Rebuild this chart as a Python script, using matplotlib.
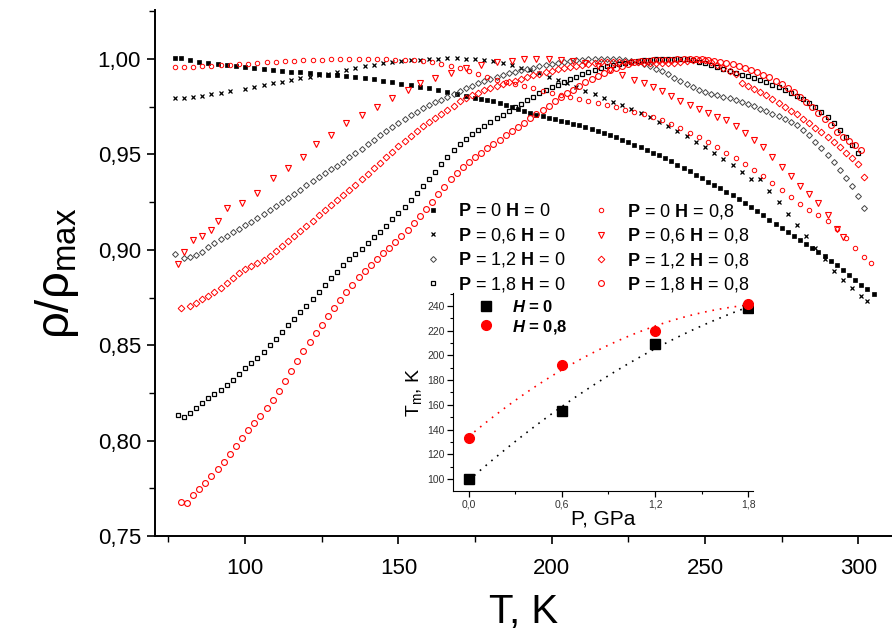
import numpy as np
import matplotlib
matplotlib.use("Agg")
import matplotlib.pyplot as plt
from matplotlib.lines import Line2D
from matplotlib.ticker import MultipleLocator, FuncFormatter

plt.rcParams["font.family"] = ["Liberation Sans", "DejaVu Sans"]
plt.rcParams["mathtext.fontset"] = "custom"
plt.rcParams["mathtext.rm"] = "Liberation Sans"
plt.rcParams["mathtext.bf"] = "Liberation Sans:bold"
plt.rcParams["mathtext.it"] = "Liberation Sans:italic"
plt.rcParams["mathtext.bfit"] = "Liberation Sans:italic:bold"

# ---- main data: rho/rho_max vs T ----
# P = 0, H = 0
T_a = [77, 79, 82, 85, 88, 91, 94, 97, 100, 103, 106, 109, 112, 115, 118, 121, 124, 127, 130, 133,
       136, 139, 142, 145, 148, 151, 154, 157, 160, 163, 166, 169, 172, 175, 177, 179, 181, 183, 185,
       187, 189, 191, 193, 195, 197, 199, 201, 203, 205, 207, 209, 211, 213, 215, 217, 219, 221, 223,
       225, 227, 229, 231, 233, 235, 237, 239, 241, 243, 245, 247, 249, 251, 253, 255, 257, 259, 261,
       263, 265, 267, 269, 271, 273, 275, 277, 279, 281, 283, 285, 287, 289, 291, 293, 295, 297, 299,
       301, 303, 305]
r_a = [1.0003, 1.0005, 0.9995, 0.9985, 0.9978, 0.9972, 0.9967, 0.9962, 0.9957, 0.9952, 0.9947,
       0.9942, 0.9938, 0.9934, 0.9930, 0.9925, 0.9922, 0.9918, 0.9914, 0.9910, 0.9906, 0.9900,
       0.9893, 0.9886, 0.9879, 0.9871, 0.9863, 0.9855, 0.9846, 0.9836, 0.9826, 0.9815, 0.9805,
       0.9797, 0.9792, 0.9786, 0.9779, 0.9770, 0.9760, 0.9750, 0.9739, 0.9728, 0.9718, 0.9709,
       0.9701, 0.9693, 0.9685, 0.9677, 0.9669, 0.9660, 0.9652, 0.9643, 0.9633, 0.9623, 0.9612,
       0.9601, 0.9590, 0.9578, 0.9565, 0.9552, 0.9539, 0.9525, 0.9510, 0.9495, 0.9480, 0.9464,
       0.9447, 0.9430, 0.9412, 0.9393, 0.9374, 0.9356, 0.9340, 0.9322, 0.9304, 0.9287, 0.9268,
       0.9248, 0.9226, 0.9204, 0.9181, 0.9157, 0.9136, 0.9115, 0.9095, 0.9074, 0.9053, 0.9032,
       0.9010, 0.8988, 0.8965, 0.8942, 0.8918, 0.8893, 0.8868, 0.8843, 0.8818, 0.8793, 0.8770]

# P = 0.6, H = 0
T_b = [77, 80, 83, 86, 89, 92, 95, 100, 103, 106, 109, 112, 115, 118, 121, 124, 127, 130, 133, 136,
       139, 142, 145, 148, 151, 154, 157, 160, 163, 166, 169, 172, 175, 178, 181, 184, 187, 190, 193,
       196, 199, 202, 205, 208, 211, 214, 217, 220, 223, 226, 229, 232, 235, 238, 241, 244, 247, 250,
       253, 256, 259, 262, 265, 268, 271, 274, 277, 280, 283, 286, 289, 292, 295, 298, 301, 303]
r_b = [0.9795, 0.9798, 0.9803, 0.9808, 0.9815, 0.9823, 0.9831, 0.9843, 0.9852, 0.9862, 0.9872,
       0.9882, 0.9891, 0.9900, 0.9908, 0.9916, 0.9924, 0.9932, 0.9942, 0.9952, 0.9962, 0.9971,
       0.9979, 0.9985, 0.9990, 0.9994, 0.9997, 1.0000, 1.0002, 1.0003, 1.0003, 1.0002, 1.0000,
       0.9995, 0.9988, 0.9979, 0.9968, 0.9955, 0.9941, 0.9925, 0.9908, 0.9890, 0.9872, 0.9853,
       0.9834, 0.9815, 0.9796, 0.9777, 0.9758, 0.9738, 0.9717, 0.9695, 0.9672, 0.9647, 0.9621,
       0.9594, 0.9566, 0.9537, 0.9507, 0.9476, 0.9443, 0.9409, 0.9373, 0.9370, 0.9310, 0.9250,
       0.9190, 0.9130, 0.9070, 0.9010, 0.8950, 0.8890, 0.8840, 0.8800, 0.8760, 0.8730]

# P = 1.2, H = 0
T_c = [77, 80, 82, 84, 86, 88, 90, 92, 94, 96, 98, 100, 102, 104, 106, 108, 110, 112, 114, 116, 118,
       120, 122, 124, 126, 128, 130, 132, 134, 136, 138, 140, 142, 144, 146, 148, 150, 152, 154, 156,
       158, 160, 162, 164, 166, 168, 170, 172, 174, 176, 178, 180, 182, 184, 186, 188, 190, 192, 194,
       196, 198, 200, 202, 204, 206, 208, 210, 212, 214, 216, 218, 220, 222, 224, 226, 228, 230, 232,
       234, 236, 238, 240, 242, 244, 246, 248, 250, 252, 254, 256, 258, 260, 262, 264, 266, 268, 270,
       272, 274, 276, 278, 280, 282, 284, 286, 288, 290, 292, 294, 296, 298, 300, 302]
r_c = [0.8980, 0.8955, 0.8962, 0.8975, 0.8990, 0.9015, 0.9035, 0.9055, 0.9073, 0.9091, 0.9109,
       0.9128, 0.9148, 0.9168, 0.9188, 0.9209, 0.9230, 0.9251, 0.9272, 0.9293, 0.9315, 0.9338,
       0.9360, 0.9381, 0.9401, 0.9421, 0.9441, 0.9462, 0.9485, 0.9508, 0.9531, 0.9554, 0.9577,
       0.9600, 0.9622, 0.9643, 0.9664, 0.9685, 0.9705, 0.9724, 0.9742, 0.9758, 0.9773, 0.9787,
       0.9801, 0.9815, 0.9833, 0.9847, 0.9860, 0.9873, 0.9885, 0.9897, 0.9908, 0.9917, 0.9925,
       0.9933, 0.9940, 0.9947, 0.9954, 0.9961, 0.9968, 0.9974, 0.9980, 0.9985, 0.9989, 0.9993,
       0.9996, 0.9998, 1.0000, 1.0001, 1.0001, 1.0000, 0.9998, 0.9995, 0.9990, 0.9983, 0.9974,
       0.9963, 0.9950, 0.9935, 0.9919, 0.9902, 0.9885, 0.9868, 0.9852, 0.9839, 0.9828, 0.9819,
       0.9811, 0.9803, 0.9795, 0.9786, 0.9776, 0.9765, 0.9753, 0.9740, 0.9727, 0.9714, 0.9700,
       0.9686, 0.9670, 0.9653, 0.9630, 0.9600, 0.9567, 0.9533, 0.9497, 0.9458, 0.9418, 0.9377,
       0.9335, 0.9280, 0.9220]

# P = 1.8, H = 0
T_d = [78, 80, 82, 84, 86, 88, 90, 92, 94, 96, 98, 100, 102, 104, 106, 108, 110, 112, 114, 116, 118,
       120, 122, 124, 126, 128, 130, 132, 134, 136, 138, 140, 142, 144, 146, 148, 150, 152, 154, 156,
       158, 160, 162, 164, 166, 168, 170, 172, 174, 176, 178, 180, 182, 184, 186, 188, 190, 192, 194,
       196, 198, 200, 202, 204, 206, 208, 210, 212, 214, 216, 218, 220, 222, 224, 226, 228, 230, 232,
       234, 236, 238, 240, 242, 244, 246, 248, 250, 252, 254, 256, 258, 260, 262, 264, 266, 268, 270,
       272, 274, 276, 278, 280, 282, 284, 286, 288, 290, 292, 294, 296, 298, 300]
r_d = [0.8135, 0.8125, 0.8143, 0.8172, 0.8198, 0.8222, 0.8245, 0.8267, 0.8290, 0.8318, 0.8348,
       0.8378, 0.8406, 0.8435, 0.8466, 0.8500, 0.8535, 0.8570, 0.8605, 0.8640, 0.8674, 0.8708,
       0.8743, 0.8778, 0.8815, 0.8852, 0.8886, 0.8920, 0.8950, 0.8978, 0.9005, 0.9035, 0.9065,
       0.9095, 0.9127, 0.9160, 0.9193, 0.9227, 0.9262, 0.9298, 0.9334, 0.9370, 0.9410, 0.9450,
       0.9487, 0.9522, 0.9555, 0.9582, 0.9608, 0.9630, 0.9651, 0.9671, 0.9690, 0.9709, 0.9728,
       0.9747, 0.9766, 0.9785, 0.9803, 0.9821, 0.9838, 0.9852, 0.9866, 0.9880, 0.9894, 0.9907,
       0.9919, 0.9931, 0.9942, 0.9952, 0.9961, 0.9968, 0.9975, 0.9981, 0.9986, 0.9990, 0.9994,
       0.9997, 0.9999, 1.0000, 1.0001, 1.0001, 1.0000, 0.9998, 0.9994, 0.9987, 0.9979, 0.9970,
       0.9960, 0.9949, 0.9938, 0.9928, 0.9918, 0.9909, 0.9899, 0.9889, 0.9878, 0.9866, 0.9853,
       0.9839, 0.9823, 0.9806, 0.9788, 0.9768, 0.9746, 0.9722, 0.9695, 0.9665, 0.9630, 0.9592,
       0.9552, 0.9510]

# P = 0, H = 0.8
T_e = [77, 80, 83, 86, 89, 92, 95, 98, 101, 104, 107, 110, 113, 116, 119, 122, 125, 128, 131, 134,
       137, 140, 143, 146, 149, 152, 155, 158, 161, 164, 167, 170, 173, 176, 179, 182, 185, 188, 191,
       194, 197, 200, 203, 206, 209, 212, 215, 218, 221, 224, 227, 230, 233, 236, 239, 242, 245, 248,
       251, 254, 257, 260, 263, 266, 269, 272, 275, 278, 281, 284, 287, 290, 293, 296, 299, 302, 304]
r_e = [0.9958, 0.9958, 0.9960, 0.9962, 0.9964, 0.9967, 0.9970, 0.9973, 0.9976, 0.9979, 0.9982,
       0.9985, 0.9988, 0.9991, 0.9993, 0.9995, 0.9997, 0.9998, 0.9999, 1.0000, 1.0000, 1.0000,
       0.9999, 0.9998, 0.9997, 0.9996, 0.9994, 0.9990, 0.9984, 0.9976, 0.9966, 0.9953, 0.9938,
       0.9922, 0.9906, 0.9892, 0.9880, 0.9868, 0.9857, 0.9846, 0.9835, 0.9824, 0.9812, 0.9800,
       0.9789, 0.9778, 0.9767, 0.9757, 0.9746, 0.9735, 0.9724, 0.9712, 0.9698, 0.9680, 0.9660,
       0.9638, 0.9614, 0.9589, 0.9563, 0.9537, 0.9510, 0.9482, 0.9452, 0.9420, 0.9386, 0.9350,
       0.9312, 0.9275, 0.9240, 0.9210, 0.9183, 0.9150, 0.9110, 0.9060, 0.9010, 0.8960, 0.8930]

# P = 0.6, H = 0.8
T_f = [78, 80, 83, 86, 89, 91, 94, 99, 104, 109, 114, 119, 123, 128, 133, 138, 143, 148, 153, 157,
       162, 167, 172, 177, 182, 187, 191, 195, 199, 203, 207, 211, 215, 219, 223, 227, 230, 233, 236,
       239, 242, 245, 248, 251, 254, 257, 260, 263, 266, 269, 272, 275, 278, 281, 284, 287, 290, 293,
       295]
r_f = [0.8925, 0.8990, 0.9050, 0.9075, 0.9105, 0.9150, 0.9220, 0.9245, 0.9300, 0.9375, 0.9430,
       0.9486, 0.9555, 0.9600, 0.9665, 0.9707, 0.9750, 0.9798, 0.9838, 0.9872, 0.9900, 0.9928,
       0.9952, 0.9970, 0.9983, 0.9992, 0.9998, 1.0000, 1.0000, 0.9997, 0.9990, 0.9978, 0.9962,
       0.9942, 0.9918, 0.9892, 0.9874, 0.9852, 0.9830, 0.9805, 0.9780, 0.9757, 0.9738, 0.9718,
       0.9698, 0.9678, 0.9650, 0.9612, 0.9578, 0.9540, 0.9485, 0.9432, 0.9385, 0.9335, 0.9290,
       0.9245, 0.9180, 0.9110, 0.9067]

# P = 1.2, H = 0.8
T_g = [79, 82, 84, 86, 88, 90, 92, 94, 96, 98, 100, 102, 104, 106, 108, 110, 112, 114, 116, 118, 120,
       122, 124, 126, 128, 130, 132, 134, 136, 138, 140, 142, 144, 146, 148, 150, 152, 154, 156, 158,
       160, 162, 164, 166, 168, 170, 172, 174, 176, 178, 180, 182, 184, 186, 188, 190, 192, 194, 196,
       198, 200, 202, 204, 206, 208, 210, 212, 214, 216, 218, 220, 222, 224, 226, 228, 230, 232, 234,
       236, 238, 240, 242, 244, 246, 248, 250, 252, 254, 256, 258, 260, 262, 264, 266, 268, 270, 272,
       274, 276, 278, 280, 282, 284, 286, 288, 290, 292, 294, 296, 298, 300, 302]
r_g = [0.8695, 0.8705, 0.8722, 0.8740, 0.8758, 0.8778, 0.8800, 0.8825, 0.8852, 0.8878, 0.8898,
       0.8915, 0.8930, 0.8948, 0.8970, 0.8995, 0.9020, 0.9045, 0.9070, 0.9097, 0.9125, 0.9153,
       0.9181, 0.9208, 0.9235, 0.9262, 0.9288, 0.9315, 0.9342, 0.9370, 0.9398, 0.9427, 0.9456,
       0.9485, 0.9514, 0.9543, 0.9570, 0.9597, 0.9623, 0.9648, 0.9671, 0.9693, 0.9714, 0.9735,
       0.9756, 0.9778, 0.9795, 0.9810, 0.9824, 0.9837, 0.9849, 0.9859, 0.9869, 0.9878, 0.9887,
       0.9896, 0.9905, 0.9914, 0.9923, 0.9931, 0.9939, 0.9946, 0.9953, 0.9959, 0.9965, 0.9970,
       0.9975, 0.9979, 0.9982, 0.9984, 0.9985, 0.9985, 0.9984, 0.9983, 0.9982, 0.9981, 0.9980,
       0.9980, 0.9980, 0.9980, 0.9981, 0.9984, 0.9988, 0.9993, 0.9997, 0.9993, 0.9982, 0.9968,
       0.9952, 0.9936, 0.9920, 0.9872, 0.9858, 0.9843, 0.9828, 0.9810, 0.9790, 0.9770, 0.9750,
       0.9730, 0.9710, 0.9688, 0.9665, 0.9641, 0.9617, 0.9592, 0.9565, 0.9538, 0.9510, 0.9480,
       0.9450, 0.9380]

# P = 1.8, H = 0.8
T_h = [79, 81, 83, 85, 87, 89, 91, 93, 95, 97, 99, 101, 103, 105, 107, 109, 111, 113, 115, 117, 119,
       121, 123, 125, 127, 129, 131, 133, 135, 137, 139, 141, 143, 145, 147, 149, 151, 153, 155, 157,
       159, 161, 163, 165, 167, 169, 171, 173, 175, 177, 179, 181, 183, 185, 187, 189, 191, 193, 195,
       197, 199, 201, 203, 205, 207, 209, 211, 213, 215, 217, 219, 221, 223, 225, 227, 229, 231, 233,
       235, 237, 239, 241, 243, 245, 247, 249, 251, 253, 255, 257, 259, 261, 263, 265, 267, 269, 271,
       273, 275, 277, 279, 281, 283, 285, 287, 289, 291, 293, 295, 297, 299, 301]
r_h = [0.7680, 0.7672, 0.7715, 0.7745, 0.7780, 0.7815, 0.7850, 0.7890, 0.7930, 0.7972, 0.8015,
       0.8055, 0.8092, 0.8128, 0.8170, 0.8215, 0.8262, 0.8312, 0.8365, 0.8418, 0.8468, 0.8517,
       0.8563, 0.8608, 0.8652, 0.8695, 0.8737, 0.8778, 0.8815, 0.8855, 0.8890, 0.8922, 0.8952,
       0.8982, 0.9010, 0.9040, 0.9072, 0.9105, 0.9140, 0.9175, 0.9212, 0.9250, 0.9290, 0.9330,
       0.9370, 0.9405, 0.9435, 0.9462, 0.9487, 0.9510, 0.9533, 0.9556, 0.9578, 0.9600, 0.9622,
       0.9644, 0.9667, 0.9690, 0.9712, 0.9734, 0.9756, 0.9778, 0.9800, 0.9820, 0.9840, 0.9860,
       0.9879, 0.9897, 0.9913, 0.9928, 0.9942, 0.9955, 0.9966, 0.9976, 0.9983, 0.9988, 0.9991,
       0.9993, 0.9995, 0.9996, 0.9997, 0.9998, 0.9999, 1.0000, 1.0000, 0.9999, 0.9996, 0.9991,
       0.9986, 0.9980, 0.9972, 0.9962, 0.9952, 0.9941, 0.9930, 0.9918, 0.9904, 0.9887, 0.9868,
       0.9848, 0.9826, 0.9802, 0.9776, 0.9748, 0.9718, 0.9686, 0.9652, 0.9616, 0.9589, 0.9568,
       0.9548, 0.9525]

labels = ["P = 0 H = 0", "P = 0,6 H = 0", "P = 1,2 H = 0", "P = 1,8 H = 0",
          "P = 0 H = 0,8", "P = 0,6 H = 0,8", "P = 1,2 H = 0,8", "P = 1,8 H = 0,8"]

# ---- inset data: T_m vs P ----
P_gpa = [0.0, 0.6, 1.2, 1.8]
Tm_h0 = [100, 155, 209, 238]
Tm_h08 = [133, 192, 220, 242]


def bold_label(s):
    return s.replace("P", r"$\mathbf{P}$").replace("H", r"$\mathbf{H}$")


def comma(v, pos, nd=2):
    return f"{v:.{nd}f}".replace(".", ",")


fig = plt.figure(figsize=(8.92, 6.34), dpi=100)
ax = fig.add_axes([155 / 892, 98 / 634, 737 / 892, 526 / 634])

styles = [
    dict(marker="s", ms=2.6, mfc="black", mec="black", mew=0.5),
    dict(marker="x", ms=3.2, mec="black", mew=0.9),
    dict(marker="D", ms=3.0, mfc="none", mec="#444444", mew=0.7),
    dict(marker="s", ms=3.2, mfc="none", mec="black", mew=0.9),
    dict(marker="o", ms=3.2, mfc="none", mec="red", mew=0.7),
    dict(marker="v", ms=4.2, mfc="none", mec="red", mew=0.8),
    dict(marker="D", ms=3.4, mfc="none", mec="red", mew=0.7),
    dict(marker="o", ms=4.2, mfc="none", mec="red", mew=0.8),
]
series = [(T_a, r_a), (T_b, r_b), (T_c, r_c), (T_d, r_d),
          (T_e, r_e), (T_f, r_f), (T_g, r_g), (T_h, r_h)]
handles = []
for (t, r), st, lab in zip(series, styles, labels):
    ax.plot(t, r, ls="none", **st)
    handles.append(Line2D([], [], ls="none", **st, label=bold_label(lab)))

ax.set_xlim(70.6, 311)
ax.set_ylim(0.75, 1.0257)
ax.spines["top"].set_visible(False)
ax.spines["right"].set_visible(False)
for s in ("left", "bottom"):
    ax.spines[s].set_linewidth(1.4)
ax.xaxis.set_major_locator(MultipleLocator(50))
ax.xaxis.set_minor_locator(MultipleLocator(25))
ax.yaxis.set_major_locator(MultipleLocator(0.05))
ax.yaxis.set_minor_locator(MultipleLocator(0.025))
ax.yaxis.set_major_formatter(FuncFormatter(comma))
ax.tick_params(which="major", direction="out", length=6, width=1.2, labelsize=16, pad=4)
ax.tick_params(which="minor", direction="out", length=4, width=1.0)
ax.tick_params(axis="x", which="major", pad=10)
ax.set_xlabel("T, K", fontsize=29, labelpad=10)
ax.set_ylabel(r"ρ/ρ$_{\rm max}$", fontsize=34, labelpad=12)

fig.legend(handles=handles, ncol=2, loc="upper left", bbox_to_anchor=(424 / 892, 1 - 202 / 634),
           frameon=False, fontsize=13, handlelength=0.95, handletextpad=0.95, columnspacing=1.5,
           labelspacing=0.3, borderpad=0, borderaxespad=0)

# ---- inset ----
ax2 = fig.add_axes([453 / 892, 143 / 634, 300 / 892, 198 / 634])
ax2.patch.set_alpha(0)
pp = np.linspace(0, 1.8, 80)
ax2.plot(pp, np.polyval(np.polyfit(P_gpa, Tm_h0, 2), pp), ls=(0, (1, 3.5)), color="black", lw=1.2)
ax2.plot(pp, np.polyval(np.polyfit(P_gpa, Tm_h08, 2), pp), ls=(0, (1, 3.5)), color="red", lw=1.2)
ax2.plot(P_gpa, Tm_h0, ls="none", marker="s", ms=7, color="black", label=r"$\mathbfit{H}$ = 0")
ax2.plot(P_gpa, Tm_h08, ls="none", marker="o", ms=7, color="red", label=r"$\mathbfit{H}$ = 0,8")
ax2.set_xlim(-0.1, 1.83)
ax2.set_ylim(90.3, 250.5)
ax2.spines["top"].set_visible(False)
ax2.spines["right"].set_visible(False)
ax2.xaxis.set_major_locator(MultipleLocator(0.6))
ax2.xaxis.set_minor_locator(MultipleLocator(0.3))
ax2.yaxis.set_major_locator(MultipleLocator(20))
ax2.yaxis.set_minor_locator(MultipleLocator(10))
ax2.xaxis.set_major_formatter(FuncFormatter(lambda v, p: comma(v, p, 1)))
ax2.tick_params(which="major", direction="out", length=4, width=0.9, labelsize=7.5, pad=2,
                labelcolor="#333333")
ax2.tick_params(which="minor", direction="out", length=2, width=0.8)
ax2.set_xlabel("P, GPa", fontsize=15, labelpad=0)
ax2.set_ylabel(r"T$_{\rm m}$, K", fontsize=14, labelpad=2)
ax2.legend(loc="upper left", frameon=False, handletextpad=0.6, labelspacing=0.15,
           borderaxespad=0.2, bbox_to_anchor=(0.02, 1.02), prop=dict(weight="bold", size=12))

fig.savefig("out.png", dpi=100)
